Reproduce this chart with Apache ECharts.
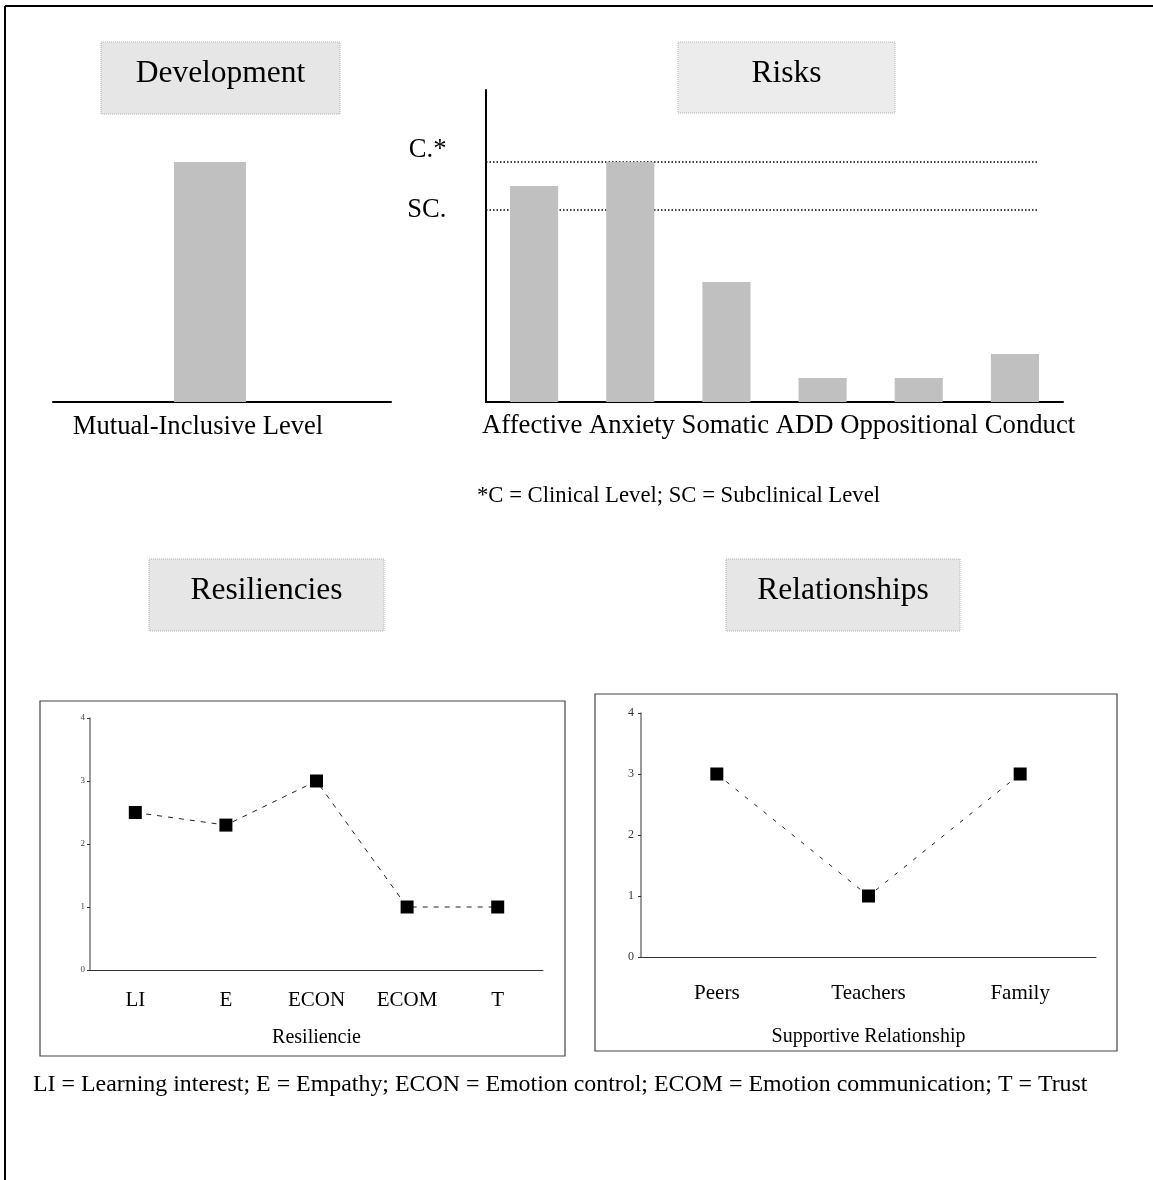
<!DOCTYPE html>
<html>
<head>
<meta charset="utf-8">
<script src="https://cdn.jsdelivr.net/npm/echarts@6/dist/echarts.min.js"></script>
<style>
  body { margin: 0; background: #fff; }
  #main { width: 1153px; height: 1180px; }
</style>
</head>
<body>
<div id="main"></div>
<script>
// data
const devCategories = ['Mutual-Inclusive Level'];
const devValues = [10];

const riskCategories = ['Affective', 'Anxiety', 'Somatic', 'ADD', 'Oppositional', 'Conduct'];
const riskValues = [9, 10, 5, 1, 1, 2];
const clinicalLevel = 10;
const subclinicalLevel = 8;
const riskMax = 13;

const resCategories = ['LI', 'E', 'ECON', 'ECOM', 'T'];
const resValues = [2.5, 2.3, 3, 1, 1];

const relCategories = ['Peers', 'Teachers', 'Family'];
const relValues = [3, 1, 3];

const serif = '"Liberation Serif", "Times New Roman", serif';
const barGray = '#c0c0c0';

var myChart = echarts.init(document.getElementById('main'));

function titleBox(x, y, w, h, text, fill) {
  return [{
    type: 'rect',
    shape: { x: x, y: y, width: w, height: h },
    style: { fill: fill, stroke: '#b0b0b0', lineWidth: 1, lineDash: [1, 1] }
  }, {
    type: 'text',
    x: x + w / 2, y: y + 32,
    style: { text: text, fontSize: 31.5, fontFamily: serif, fill: '#000', align: 'center', verticalAlign: 'middle' }
  }];
}

// end of the dotted level lines = right edge of the last bar
const levelEnd = riskCategories.length - 0.25;

function levelLine(value, name, dy) {
  return {
    type: 'line',
    xAxisIndex: 3,
    yAxisIndex: 2,
    z: 1,
    symbol: 'rect',
    symbolSize: 1,
    itemStyle: { color: 'rgba(0,0,0,0)' },
    lineStyle: { color: '#000', width: 1.5, type: [1.5, 2] },
    silent: true,
    data: [
      { value: [0, value], label: { show: true, formatter: name, position: 'left', distance: 39, offset: [0, dy], fontSize: 26.6, fontFamily: serif, color: '#000' } },
      [levelEnd, value]
    ]
  };
}

let graphics = [];
// outer frame (left and top edges)
graphics.push({ type: 'line', shape: { x1: 5, y1: 6, x2: 1153, y2: 6 }, style: { stroke: '#000', lineWidth: 2 } });
graphics.push({ type: 'line', shape: { x1: 5, y1: 6, x2: 5, y2: 1180 }, style: { stroke: '#000', lineWidth: 2 } });
graphics = graphics.concat(titleBox(101, 42, 239, 72, 'Development', '#e6e6e6'));
graphics = graphics.concat(titleBox(678, 42, 217, 71, 'Risks', '#ececec'));
graphics = graphics.concat(titleBox(149, 559, 235, 72, 'Resiliencies', '#e6e6e6'));
graphics = graphics.concat(titleBox(726, 559, 234, 72, 'Relationships', '#e6e6e6'));
// frames of the two lower charts
graphics.push({ type: 'rect', shape: { x: 40, y: 701, width: 525, height: 355 }, style: { fill: null, stroke: '#444', lineWidth: 1.2 } });
graphics.push({ type: 'rect', shape: { x: 595, y: 694, width: 522, height: 357 }, style: { fill: null, stroke: '#444', lineWidth: 1.2 } });
// category texts of the upper charts
graphics.push({ type: 'text', x: 198, y: 427, style: { text: devCategories[0], fontSize: 26.6, fontFamily: serif, fill: '#000', align: 'center', verticalAlign: 'middle' } });
graphics.push({ type: 'text', x: 482, y: 426, style: { text: riskCategories.join(' '), fontSize: 26.7, fontFamily: serif, fill: '#000', align: 'left', verticalAlign: 'middle' } });
// notes
graphics.push({ type: 'text', x: 477, y: 496, style: { text: '*C = Clinical Level; SC = Subclinical Level', fontSize: 22.7, fontFamily: serif, fill: '#000', align: 'left', verticalAlign: 'middle' } });
graphics.push({ type: 'text', x: 33, y: 1085, style: { text: 'LI = Learning interest; E = Empathy; ECON = Emotion control; ECOM = Emotion communication; T = Trust', fontSize: 23.9, fontFamily: serif, fill: '#000', align: 'left', verticalAlign: 'middle' } });

const hidden = { show: false };

let option = {
  animation: false,
  backgroundColor: '#fff',
  grid: [
    { left: 29, top: 90, width: 362, height: 312 },   // development bar
    { left: 53, top: 90, width: 338, height: 312 },   // development base line
    { left: 486, top: 90, width: 577, height: 312 },  // risks
    { left: 90, top: 718, width: 453, height: 252 },  // resiliencies
    { left: 641, top: 713, width: 455, height: 244 }  // relationships
  ],
  xAxis: [
    { gridIndex: 0, type: 'category', data: devCategories, axisLine: hidden, axisTick: hidden, axisLabel: hidden },
    { gridIndex: 1, type: 'value', min: 0, max: 1, axisLine: { show: true, lineStyle: { color: '#000', width: 2 } }, axisTick: hidden, axisLabel: hidden, splitLine: hidden },
    { gridIndex: 2, type: 'category', data: riskCategories, axisLine: { lineStyle: { color: '#000', width: 2 } }, axisTick: hidden, axisLabel: hidden },
    { gridIndex: 2, type: 'value', min: 0, max: riskCategories.length, show: false },
    {
      gridIndex: 3, type: 'category', data: resCategories,
      axisLine: { lineStyle: { color: '#333', width: 1 } },
      axisTick: { length: 6, lineStyle: { color: '#333' } },
      axisLabel: { fontSize: 21, fontFamily: serif, color: '#000', margin: 20 },
      name: 'Resiliencie', nameLocation: 'middle', nameGap: 58,
      nameTextStyle: { fontSize: 20, fontFamily: serif, color: '#000' }
    },
    {
      gridIndex: 4, type: 'category', data: relCategories,
      axisLine: { lineStyle: { color: '#333', width: 1 } },
      axisTick: { length: 6, lineStyle: { color: '#333' } },
      axisLabel: { fontSize: 21, fontFamily: serif, color: '#000', margin: 26 },
      name: 'Supportive Relationship', nameLocation: 'middle', nameGap: 70,
      nameTextStyle: { fontSize: 20, fontFamily: serif, color: '#000' }
    }
  ],
  yAxis: [
    { gridIndex: 0, type: 'value', min: 0, max: riskMax, show: false },
    { gridIndex: 1, type: 'value', show: false },
    { gridIndex: 2, type: 'value', min: 0, max: riskMax, axisLine: { show: true, lineStyle: { color: '#000', width: 2 } }, axisTick: hidden, axisLabel: hidden, splitLine: hidden },
    {
      gridIndex: 3, type: 'value', min: 0, max: 4, interval: 1,
      axisLine: { show: true, lineStyle: { color: '#777', width: 1.5 } },
      axisTick: { show: true, length: 3, lineStyle: { color: '#333' } },
      axisLabel: { fontSize: 9, fontFamily: serif, color: '#444', margin: 5 },
      splitLine: hidden
    },
    {
      gridIndex: 4, type: 'value', min: 0, max: 4, interval: 1,
      axisLine: { show: true, lineStyle: { color: '#777', width: 1.5 } },
      axisTick: { show: true, length: 3, lineStyle: { color: '#333' } },
      axisLabel: { fontSize: 12, fontFamily: serif, color: '#333', margin: 7 },
      splitLine: hidden
    }
  ],
  series: [
    { type: 'bar', xAxisIndex: 0, yAxisIndex: 0, data: devValues, barWidth: 72, itemStyle: { color: barGray }, z: 3 },
    { type: 'bar', xAxisIndex: 2, yAxisIndex: 2, data: riskValues, barWidth: '50%', itemStyle: { color: barGray }, z: 3 },
    levelLine(clinicalLevel, 'C.*', -12),
    levelLine(subclinicalLevel, 'SC.', 0),
    {
      type: 'line', xAxisIndex: 4, yAxisIndex: 3, data: resValues,
      symbol: 'rect', symbolSize: 13, itemStyle: { color: '#000' },
      lineStyle: { color: '#222', width: 1, type: [5, 6] }
    },
    {
      type: 'line', xAxisIndex: 5, yAxisIndex: 4, data: relValues,
      symbol: 'rect', symbolSize: 13, itemStyle: { color: '#000' },
      lineStyle: { color: '#222', width: 1, type: [4, 8] }
    }
  ],
  graphic: graphics
};

myChart.setOption(option);
</script>
</body>
</html>
